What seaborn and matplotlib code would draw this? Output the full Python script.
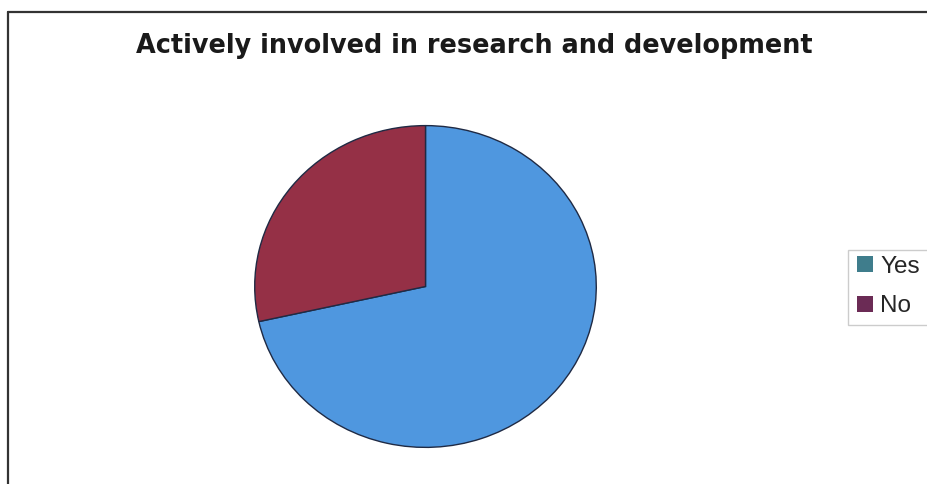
import matplotlib
matplotlib.use("Agg")
import matplotlib.pyplot as plt
import seaborn as sns
from matplotlib.patches import Patch, Rectangle
from matplotlib.lines import Line2D

sns.set_theme(style="white")
plt.rcParams['font.family'] = ['Liberation Sans', 'DejaVu Sans']

# Survey answers (percent of respondents)
categories = ["Yes", "No"]
shares = [71.5, 28.5]
slice_colors = ["#4f97df", "#953046"]
legend_colors = ["#3f7d8c", "#6b2b55"]

W, H = 927, 484
fig = plt.figure(figsize=(W / 100, H / 100), dpi=100)
fig.patch.set_facecolor("white")

# Chart frame (top and left edges)
fig.add_artist(Line2D([8/W, 1.0], [1 - 12/H, 1 - 12/H], color="#333333", lw=1.6))
fig.add_artist(Line2D([8/W, 8/W], [0.0, 1 - 12/H], color="#333333", lw=1.6))

ax = fig.add_axes([253/W, 35/H, 345/W, 325/H])
ax.pie(shares, colors=slice_colors, startangle=90, counterclock=False,
       wedgeprops=dict(edgecolor="#1f2a44", linewidth=1.0))
ax.set_aspect("auto")
ax.set_xlim(-1.01, 1.01)
ax.set_ylim(-1.01, 1.01)
ax.axis("off")

fig.text(474/W, 1 - 46/H, "Actively involved in research and development",
         ha="center", va="center", fontsize=18.4, fontweight="bold",
         family=["DejaVu Sans"], color="#1a1a1a")

# Legend box running off the right edge
fig.add_artist(Rectangle((848/W, 1 - 325/H), 100/W, 75/H, transform=fig.transFigure,
                         facecolor="white", edgecolor="#cccccc", lw=1.0, clip_on=False))
handles = [Patch(facecolor=c, edgecolor="none") for c in legend_colors]
leg = fig.legend(handles, categories, loc="upper left",
                 bbox_to_anchor=(852/W, 1 - 251/H), fontsize=17.5,
                 frameon=False, handlelength=0.65, handleheight=0.62,
                 handletextpad=0.3, borderpad=0.2, labelspacing=0.72,
                 borderaxespad=0)

fig.savefig("out.png", dpi=100, facecolor="white")
